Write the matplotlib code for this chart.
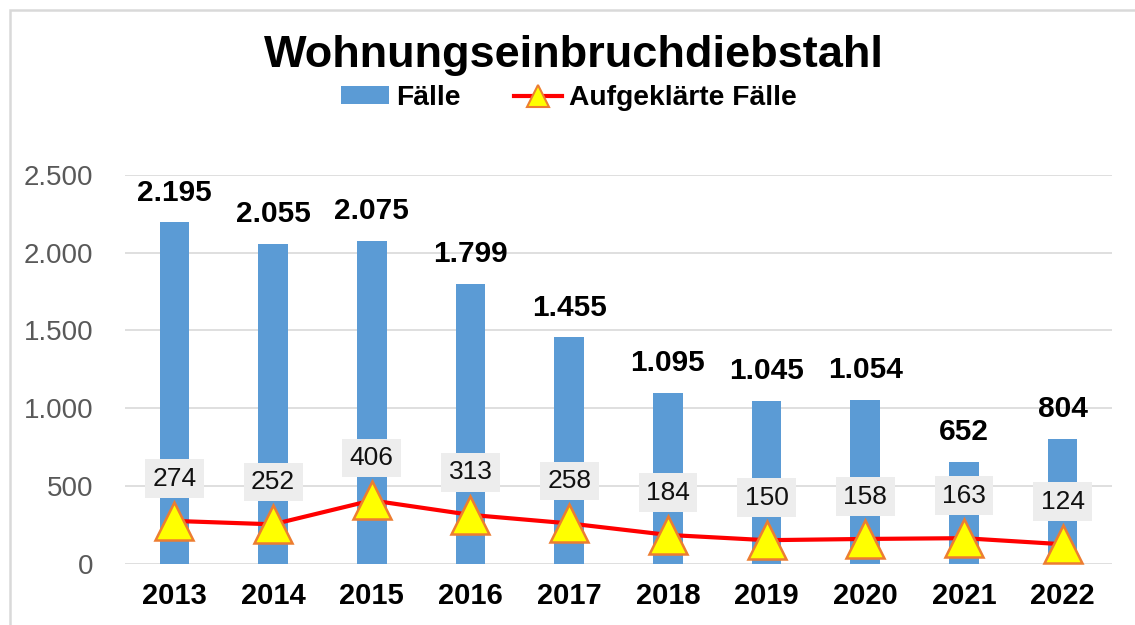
import matplotlib
matplotlib.use("Agg")
import matplotlib.pyplot as plt
from matplotlib.patches import Rectangle
from matplotlib.lines import Line2D
from matplotlib.patches import Patch
import numpy as np

plt.rcParams['font.family'] = ['Liberation Sans', 'DejaVu Sans']

years = ["2013", "2014", "2015", "2016", "2017", "2018", "2019", "2020", "2021", "2022"]
faelle = [2195, 2055, 2075, 1799, 1455, 1095, 1045, 1054, 652, 804]
aufgeklaert = [274, 252, 406, 313, 258, 184, 150, 158, 163, 124]
yticks = [0, 500, 1000, 1500, 2000, 2500]


def de(n):
    return f"{n:,}".replace(",", ".")


fig = plt.figure(figsize=(11.35, 6.25), dpi=100)
ax = fig.add_axes([125 / 1135, 1 - 563.5 / 625, 987 / 1135, 388.5 / 625])

x = np.arange(len(years))
bar_col = "#5B9BD5"
ax.bar(x, faelle, width=0.3, color=bar_col, zorder=2)
ax.plot(x, aufgeklaert, color="#FF0000", lw=3, zorder=3,
        marker="^", markersize=28, markerfacecolor="#FFFF00",
        markeredgecolor="#ED7D31", markeredgewidth=1.8)

for xi, v in zip(x, faelle):
    ax.annotate(de(v), (xi, v), xytext=(0, 21.5), textcoords="offset points",
                ha="center", va="center", fontsize=21.5, fontweight="bold",
                color="black", annotation_clip=False)
for xi, v in zip(x, aufgeklaert):
    ax.annotate(de(v), (xi, v), xytext=(0, 30.5), textcoords="offset points",
                ha="center", va="center", fontsize=19, color="#111111",
                zorder=5,
                bbox=dict(boxstyle="square,pad=0.28", fc="#EDEDED", ec="none"))

ax.set_xlim(-0.5, len(years) - 0.5)
ax.set_ylim(0, 2500)
ax.set_yticks(yticks)
ax.set_yticklabels([de(t) for t in yticks], fontsize=20, color="#595959")
ax.set_xticks(x)
ax.set_xticklabels(years, fontsize=21, fontweight="bold", color="black")
ax.tick_params(axis="both", length=0)
ax.tick_params(axis="y", pad=23)
ax.tick_params(axis="x", pad=13)
for s in ax.spines.values():
    s.set_visible(False)
ax.grid(axis="y", color="#D9D9D9", lw=1.2, zorder=0)
ax.set_axisbelow(True)

fig.text(574 / 1135, 1 - 56 / 625, "Wohnungseinbruchdiebstahl", ha="center",
         va="center", fontsize=32.5, fontweight="bold", color="black")

handles = [
    Patch(facecolor=bar_col, edgecolor="none"),
    Line2D([0], [0], color="#FF0000", lw=3, marker="^", markersize=16,
           markerfacecolor="#FFFF00", markeredgecolor="#ED7D31", markeredgewidth=1.5),
]
leg = fig.legend(handles, ["Fälle", "Aufgeklärte Fälle"], loc="center",
                 bbox_to_anchor=(569 / 1135, 1 - 98 / 625), ncol=2, frameon=False,
                 prop={"size": 20.3, "weight": "bold"}, handlelength=1.7,
                 handleheight=0.6, handletextpad=0.25, columnspacing=1.9)

fig.patches.append(Rectangle((9.5 / 1135, -0.1), 1.2, 1 - 9.5 / 625 + 0.1,
                             transform=fig.transFigure, fill=False,
                             ec="#D9D9D9", lw=1.8, zorder=0))

fig.savefig("out.png", dpi=100, facecolor="white")
